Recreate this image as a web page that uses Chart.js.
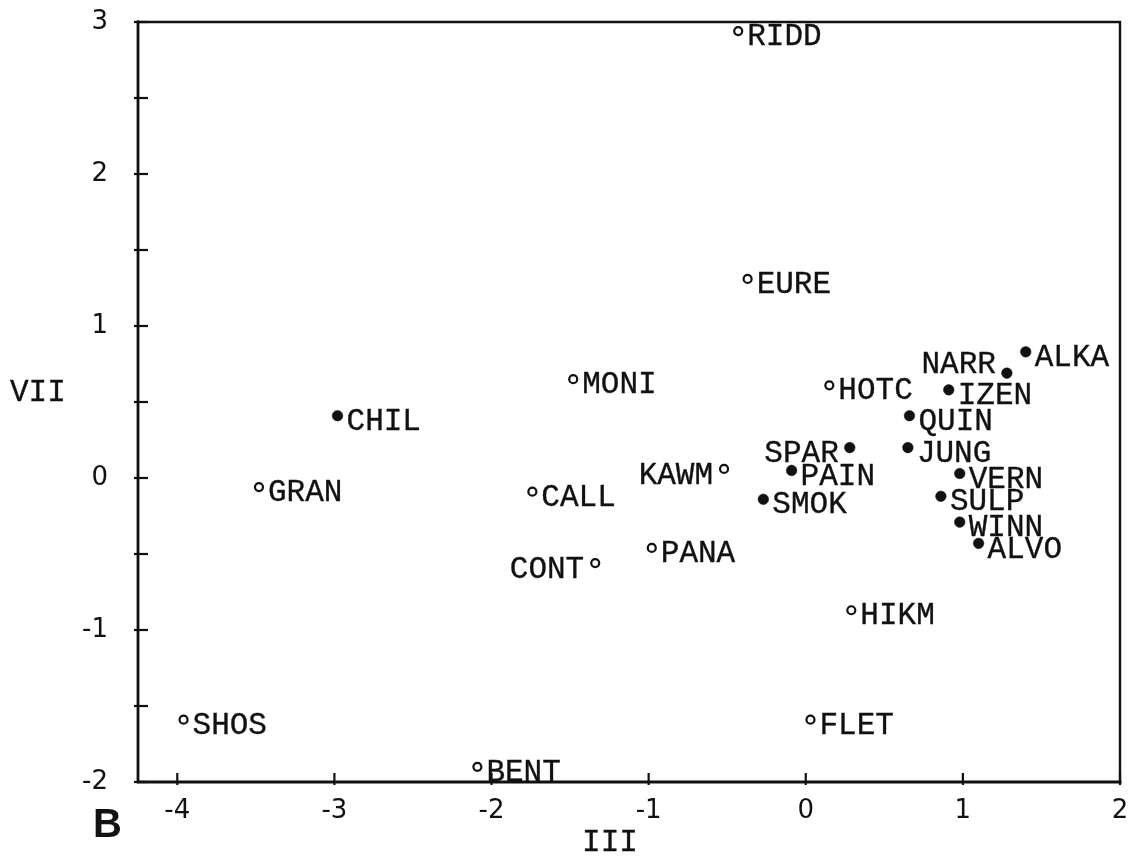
<!DOCTYPE html>
<html>
<head>
<meta charset="utf-8">
<script src="https://cdn.jsdelivr.net/npm/chart.js@4.4.1/dist/chart.umd.min.js"></script>
<style>
  html, body { margin: 0; padding: 0; background: #ffffff; }
  #wrap { width: 1140px; height: 857px; position: relative; }
</style>
</head>
<body>
<div id="wrap"><canvas id="c"></canvas></div>
<script>
// ---- data ----
const openNames = ["RIDD","EURE","MONI","HOTC","KAWM","GRAN","CALL","CONT","PANA","HIKM","FLET","SHOS","BENT"];
const openX     = [-0.43, -0.37, -1.48, 0.15, -0.52, -3.48, -1.74, -1.34, -0.98, 0.29, 0.03, -3.96, -2.09];
const openY     = [ 2.94,  1.31,  0.65, 0.61,  0.06, -0.06, -0.09, -0.56, -0.46, -0.87, -1.59, -1.59, -1.90];

const filledNames = ["CHIL","ALKA","NARR","IZEN","QUIN","JUNG","SPAR","PAIN","VERN","SMOK","SULP","WINN","ALVO"];
const filledX     = [-2.98, 1.40, 1.28, 0.91, 0.66, 0.65, 0.28, -0.09, 0.98, -0.27, 0.86, 0.98, 1.10];
const filledY     = [ 0.41, 0.83, 0.69, 0.58, 0.41, 0.20, 0.20,  0.05, 0.03, -0.14, -0.12, -0.29, -0.43];

const xTickValues = [-4, -3, -2, -1, 0, 1, 2];
const xTickLabels = ["-4", "-3", "-2", "-1", "0", "1", "2"];
const yTickValues = [-2, -1.5, -1, -0.5, 0, 0.5, 1, 1.5, 2, 2.5, 3];
const yTickLabels = ["-2", "", "-1", "", "0", "", "1", "", "2", "", "3"];

const xTitle = "III";
const yTitle = "VII";
const panelLetter = "B";

// ---- build ----
const toPts = (xs, ys) => xs.map((x, i) => ({ x: x, y: ys[i] }));

const leftLabels = { "NARR": -8, "SPAR": 6, "KAWM": 7, "CONT": 7 }; // vertical shift for left-side labels
const MONO = '"Liberation Mono", "Courier New", monospace';
const SANS = '"DejaVu Sans", "Liberation Sans", Arial, sans-serif';

function txt(ctx, s, x, y) {
  ctx.strokeText(s, x, y);
  ctx.fillText(s, x, y);
}

const decor = {
  id: 'decor',
  afterDatasetsDraw(chart) {
    const ctx = chart.ctx;
    const a = chart.chartArea;
    const xs = chart.scales.x, ys = chart.scales.y;
    ctx.save();
    ctx.strokeStyle = '#111';
    ctx.lineCap = 'square';
    // box
    ctx.lineWidth = 2.8;
    ctx.beginPath();
    ctx.moveTo(a.left, a.top); ctx.lineTo(a.left, a.bottom); ctx.lineTo(a.right, a.bottom);
    ctx.stroke();
    ctx.lineWidth = 2.4;
    ctx.beginPath();
    ctx.moveTo(a.left, a.top); ctx.lineTo(a.right, a.top); ctx.lineTo(a.right, a.bottom);
    ctx.stroke();
    // ticks (inside)
    ctx.lineWidth = 2.2;
    ctx.lineCap = 'butt';
    yTickValues.forEach(v => {
      const py = ys.getPixelForValue(v);
      ctx.beginPath(); ctx.moveTo(a.left - 4, py); ctx.lineTo(a.left + 10, py); ctx.stroke();
    });
    xTickValues.forEach(v => {
      const px = xs.getPixelForValue(v);
      ctx.beginPath(); ctx.moveTo(px, a.bottom + 3); ctx.lineTo(px, a.bottom - 9); ctx.stroke();
    });
    // point labels
    ctx.fillStyle = '#111';
    ctx.lineWidth = 0.35;
    ctx.lineJoin = 'round';
    ctx.font = '31px ' + MONO;
    ctx.textBaseline = 'middle';
    chart.data.datasets.forEach(ds => {
      ds.data.forEach((p, i) => {
        const name = ds.names[i];
        const px = xs.getPixelForValue(p.x), py = ys.getPixelForValue(p.y);
        if (name in leftLabels) {
          ctx.textAlign = 'right';
          txt(ctx, name, px - 11, py + leftLabels[name]);
        } else {
          ctx.textAlign = 'left';
          txt(ctx, name, px + 9, py + 6);
        }
      });
    });
    // axis titles
    ctx.textAlign = 'left';
    txt(ctx, yTitle, 10, ys.getPixelForValue(0.56));
    ctx.textAlign = 'center';
    txt(ctx, xTitle, 610, 843);
    // panel letter
    ctx.font = 'bold 40px "Liberation Sans", Arial, sans-serif';
    ctx.textAlign = 'left';
    ctx.fillText(panelLetter, 93, 826);
    ctx.restore();
  }
};

new Chart(document.getElementById('c'), {
  type: 'scatter',
  data: {
    datasets: [
      {
        label: 'open', names: openNames, data: toPts(openX, openY),
        pointStyle: 'circle', pointRadius: 4, pointBorderWidth: 2.2,
        pointBackgroundColor: '#ffffff', pointBorderColor: '#111'
      },
      {
        label: 'filled', names: filledNames, data: toPts(filledX, filledY),
        pointStyle: 'circle', pointRadius: 5.3, pointBorderWidth: 0.5,
        pointBackgroundColor: '#111', pointBorderColor: '#111'
      }
    ]
  },
  options: {
    responsive: true,
    maintainAspectRatio: false,
    animation: false,
    events: [],
    layout: { padding: { top: 22, right: 20, left: 0, bottom: 0 } },
    plugins: { legend: { display: false }, tooltip: { enabled: false }, title: { display: false } },
    scales: {
      x: {
        type: 'linear', min: -4.25, max: 2,
        afterBuildTicks: s => { s.ticks = xTickValues.map(v => ({ value: v })); },
        afterFit: s => { s.height = 75; s.paddingLeft = 0; s.paddingRight = 0; },
        grid: { display: false, drawTicks: false },
        border: { display: false },
        ticks: {
          callback: (v, i) => xTickLabels[i],
          color: '#111', padding: 14, maxRotation: 0, autoSkip: false,
          font: { family: SANS, size: 26 }
        }
      },
      y: {
        type: 'linear', min: -2, max: 3,
        afterBuildTicks: s => { s.ticks = yTickValues.map(v => ({ value: v })); },
        afterFit: s => { s.width = 138; s.paddingTop = 0; s.paddingBottom = 0; },
        grid: { display: false, drawTicks: false },
        border: { display: false },
        ticks: {
          callback: (v, i) => yTickLabels[i],
          color: '#111', padding: 30, autoSkip: false,
          font: { family: SANS, size: 26 }
        }
      }
    }
  },
  plugins: [decor]
});
</script>
</body>
</html>
